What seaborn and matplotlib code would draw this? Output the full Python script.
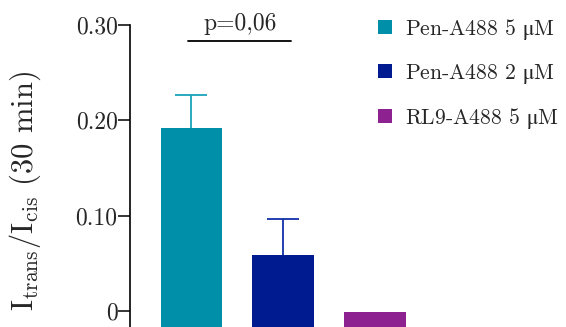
import matplotlib
matplotlib.use('Agg')
import matplotlib.pyplot as plt
import seaborn as sns
from matplotlib.patches import Patch
from matplotlib.font_manager import FontProperties

# values
conditions = ['Pen-A488 5 $\\mathrm{\\mu}$M', 'Pen-A488 2 $\\mathrm{\\mu}$M', 'RL9-A488 5 $\\mathrm{\\mu}$M']
ratio_mean = [0.192, 0.059, -0.001]
ratio_sem = [0.035, 0.037, 0.0]
colors = ['#008FA8', '#001A8F', '#8E2190']
err_colors = ['#1AA3BA', '#1030A8', '#8E2190']
y_ticks = [0, 0.10, 0.20, 0.30]
y_ticklabels = ['0', '0.10', '0.20', '0.30']
p_text = 'p=0,06'

sns.set_style('white')
plt.rcParams['font.family'] = ['cmr10', 'DejaVu Serif']
plt.rcParams['mathtext.fontset'] = 'cm'
plt.rcParams['axes.unicode_minus'] = False

fig = plt.figure(figsize=(5.66, 3.27), dpi=100)
ax = fig.add_axes([0.2297, 0.0, 0.5137, 0.9235])

sns.barplot(x=conditions, y=ratio_mean, hue=conditions, palette=colors,
            legend=False, width=0.67, errorbar=None, ax=ax, saturation=1)

ymin, ymax = -0.0168, 0.30
for bar, val in zip(ax.patches, ratio_mean):
    bar.set_y(ymin)
    bar.set_height(val - ymin)
    bar.set_linewidth(0)

# only the upper half of each error bar, with a cap on top
for i, (m, e, c) in enumerate(zip(ratio_mean, ratio_sem, err_colors)):
    if e > 0:
        _, caps, _ = ax.errorbar(i, m, yerr=[[0], [e]], fmt='none', ecolor=c,
                                 elinewidth=1.3, capsize=11.5, capthick=1.3)
        caps[0].set_visible(False)

ax.set_ylim(ymin, ymax)
ax.set_xlim(-0.67, 2.5)
ax.set_yticks(y_ticks)
ax.set_yticklabels(y_ticklabels, fontsize=17)
ax.set_xticks([])
ax.tick_params(axis='y', left=True, direction='out', length=8.5, width=1.1, pad=0.5, color='black')
for side in ['top', 'right', 'bottom']:
    ax.spines[side].set_visible(False)
ax.spines['left'].set_linewidth(1.2)
ax.spines['left'].set_color('black')
ax.set_ylabel(r'$\mathrm{I_{trans}/I_{cis}}$ (30 min)', fontsize=22)
ax.yaxis.set_label_coords(-0.30, 0.45)

# significance bar
ax.plot([-0.04, 1.09], [0.283, 0.283], color='black', lw=1.3, clip_on=False)
ax.text(0.525, 0.295, p_text, ha='center', va='baseline', fontsize=17, clip_on=False)

handles = [Patch(facecolor=c, edgecolor='none') for c in colors]
leg_font = FontProperties(family=['cmr10', 'DejaVu Serif'], size=15.6, math_fontfamily='stix')
fig.legend(handles, conditions, loc='upper left', bbox_to_anchor=(0.634, 1.008),
           frameon=False, prop=leg_font, handlelength=0.62, handleheight=0.62,
           handletextpad=0.6, labelspacing=0.92)

fig.savefig('out.png', dpi=100)
